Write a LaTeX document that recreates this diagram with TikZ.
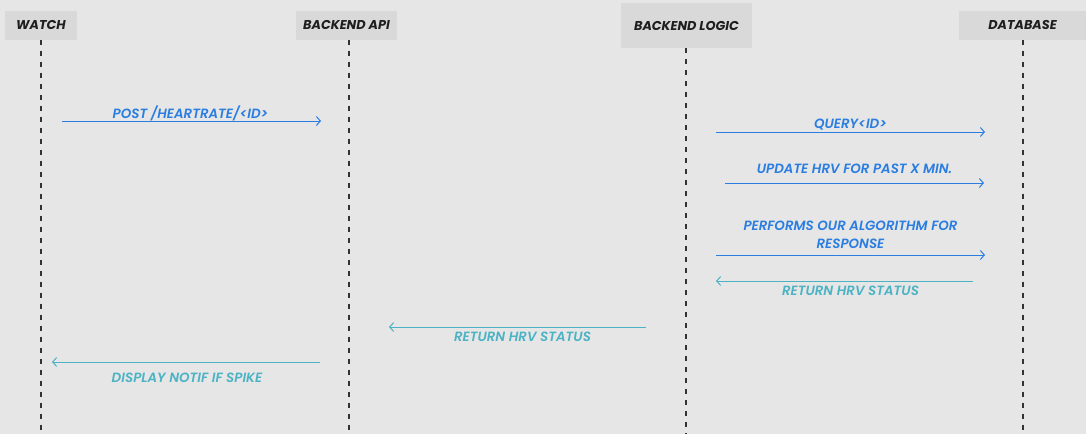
\documentclass[tikz,border=0pt]{standalone}
\usepackage{fontspec}
\setmainfont{Poppins}
\newfontfamily\lblfont{Poppins SemiBold Italic}
\usetikzlibrary{arrows.meta}

\definecolor{bgcol}{HTML}{E6E6E6}
\definecolor{boxcol}{HTML}{D9D9D9}
\definecolor{headcol}{HTML}{1E1E1E}
\definecolor{linecol}{HTML}{333333}
\definecolor{callcol}{HTML}{2A7DE1}
\definecolor{replycol}{HTML}{4BB3C4}

\begin{document}
\begin{tikzpicture}[
    x=1pt,
    y=-1pt,
    >={Straight Barb[length=4pt,width=9pt]},
    actor/.style={
      fill=boxcol,
      text=headcol,
      inner sep=0,
      font=\bfseries\itshape\fontsize{12.8}{14}\selectfont
    },
    lifeline/.style={draw=linecol, line width=1.2pt, dash pattern=on 5pt off 6pt},
    call/.style={->, draw=callcol, line width=1pt},
    reply/.style={->, draw=replycol, line width=1pt},
    lbl/.style={font=\lblfont\fontsize{13.4}{18}\selectfont, inner sep=0pt, align=center, anchor=base},
    lbl2/.style={font=\lblfont\fontsize{13.4}{18}\selectfont, inner sep=0pt, align=center, anchor=south, text depth=0pt}
    ]

    \fill[bgcol] (0,0) rectangle (1086,434);
    \useasboundingbox (0,0) rectangle (1086,434);

    % participants
    \node [actor, minimum width=72, minimum height=29] (watch) at (41,25) {WATCH};
    \node [actor, minimum width=101, minimum height=29] (api) at (346.5,25) {BACKEND API};
    \node [actor, minimum width=131, minimum height=45] (logic) at (686.5,25.5) {BACKEND LOGIC};
    \node [actor, minimum width=127, minimum height=29, text width=127, align=center] (db) at (1022.5,25) {DATABASE};

    \coordinate (watch-end) at (41,434);
    \coordinate (api-end) at (349,434);
    \coordinate (logic-end) at (686,434);
    \coordinate (db-end) at (1023,434);

    \draw[lifeline] (watch.south -| watch-end) -- (watch-end);
    \draw[lifeline] (api.south -| api-end) -- (api-end);
    \draw[lifeline] (logic.south -| logic-end) -- (logic-end);
    \draw[lifeline] (db.south -| db-end) -- (db-end);

    % message ends
    \coordinate (post-a) at (62,121);    \coordinate (post-b) at (321,121);
    \coordinate (query-a) at (716,132);  \coordinate (query-b) at (985,132);
    \coordinate (upd-a) at (725,183);    \coordinate (upd-b) at (984,183);
    \coordinate (algo-a) at (716,255);   \coordinate (algo-b) at (985,255);
    \coordinate (ret1-a) at (973,281);   \coordinate (ret1-b) at (716,281);
    \coordinate (ret2-a) at (646,327);   \coordinate (ret2-b) at (389,327);
    \coordinate (disp-a) at (320,362);   \coordinate (disp-b) at (52,362);

    \draw[call] (post-a) -- node[lbl, yshift=3pt, xshift=-1pt, text=callcol] {POST /HEARTRATE/<ID>} (post-b);
    \draw[call] (query-a) -- node[lbl, yshift=4pt, text=callcol] {QUERY<ID>} (query-b);
    \draw[call] (upd-a) -- node[lbl, yshift=10pt, text=callcol] {UPDATE HRV FOR PAST X MIN.} (upd-b);
    \draw[call] (algo-a) -- node[lbl2, yshift=6.5pt, text=callcol] {PERFORMS OUR ALGORITHM FOR\\RESPONSE} (algo-b);

    \draw[reply] (ret1-a) -- node[lbl, yshift=-14pt, xshift=6pt, text=replycol] {RETURN HRV STATUS} (ret1-b);
    \draw[reply] (ret2-a) -- node[lbl, yshift=-14pt, xshift=5pt, text=replycol] {RETURN HRV STATUS} (ret2-b);
    \draw[reply] (disp-a) -- node[lbl, yshift=-20pt, xshift=1pt, text=replycol] {DISPLAY NOTIF IF SPIKE} (disp-b);

\end{tikzpicture}
\end{document}
